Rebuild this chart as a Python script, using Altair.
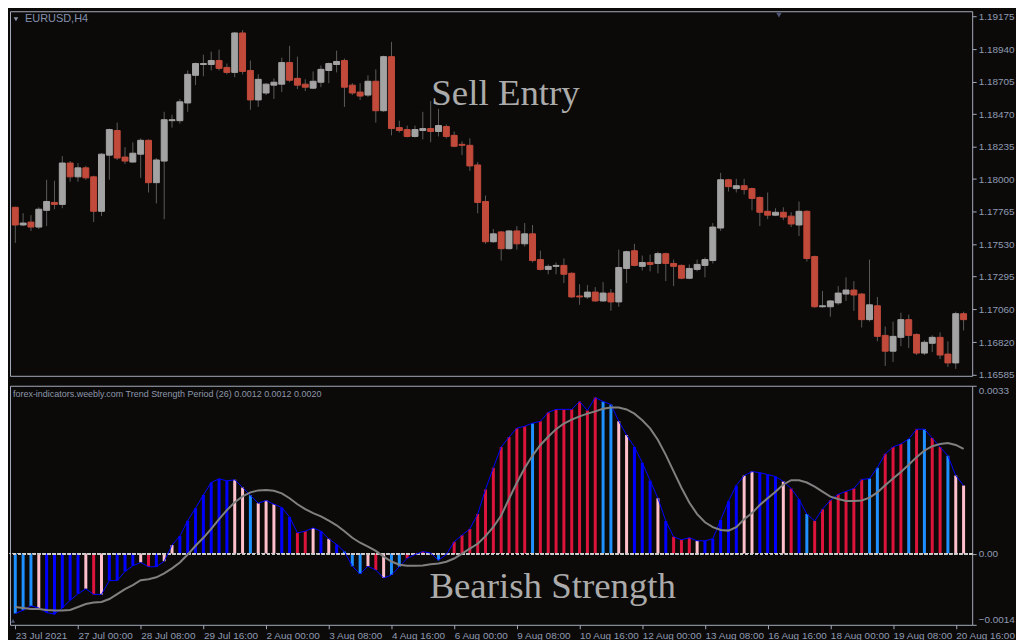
import altair as alt
import pandas as pd

# ---------------- price data (EURUSD H4) ----------------
opens = [1.17796, 1.17668, 1.17689, 1.17653, 1.17774, 1.17831, 1.17817, 1.18116, 1.18016, 1.18081,
         1.18016, 1.17767, 1.18173, 1.18351, 1.18159, 1.18123, 1.18180, 1.18280, 1.17974, 1.18130,
         1.18422, 1.18422, 1.18550, 1.18750, 1.18828, 1.18828, 1.18857, 1.18807, 1.18771, 1.19056,
         1.18785, 1.18572, 1.18622, 1.18679, 1.18686, 1.18842, 1.18728, 1.18686, 1.18657, 1.18700,
         1.18785, 1.18828, 1.18857, 1.18679, 1.18629, 1.18607, 1.18707, 1.18494, 1.18885, 1.18372,
         1.18358, 1.18308, 1.18351, 1.18365, 1.18344, 1.18380, 1.18316, 1.18251, 1.18244, 1.18102,
         1.17838, 1.17547, 1.17618, 1.17497, 1.17625, 1.17532, 1.17604, 1.17418, 1.17347, 1.17369,
         1.17376, 1.17319, 1.17155, 1.17148, 1.17183, 1.17119, 1.17176, 1.17112, 1.17354, 1.17482,
         1.17369, 1.17397, 1.17390, 1.17461, 1.17390, 1.17376, 1.17283, 1.17347, 1.17376, 1.17411,
         1.17646, 1.17995, 1.17931, 1.17952, 1.17931, 1.17867, 1.17767, 1.17739, 1.17760, 1.17732,
         1.17668, 1.17767, 1.17440, 1.17077, 1.17077, 1.17105, 1.17169, 1.17198, 1.17169, 1.16984,
         1.17084, 1.16870, 1.16756, 1.16856, 1.16984, 1.16877, 1.16742, 1.16813, 1.16856, 1.16735,
         1.16671, 1.17027]
highs = [1.17800, 1.17753, 1.17739, 1.17796, 1.17995, 1.17988, 1.18166, 1.18130, 1.18116, 1.18095,
         1.18024, 1.18187, 1.18365, 1.18408, 1.18230, 1.18266, 1.18294, 1.18287, 1.18152, 1.18486,
         1.18465, 1.18579, 1.18785, 1.18842, 1.18899, 1.18921, 1.18935, 1.18835, 1.19063, 1.19077,
         1.18857, 1.18757, 1.18693, 1.18728, 1.18878, 1.18963, 1.18885, 1.18721, 1.18778, 1.18821,
         1.18842, 1.18928, 1.18871, 1.18693, 1.18693, 1.18750, 1.18793, 1.18892, 1.18992, 1.18422,
         1.18387, 1.18387, 1.18486, 1.18565, 1.18508, 1.18394, 1.18344, 1.18273, 1.18294, 1.18123,
         1.17881, 1.17639, 1.17625, 1.17632, 1.17660, 1.17682, 1.17668, 1.17482, 1.17383, 1.17397,
         1.17426, 1.17326, 1.17240, 1.17233, 1.17219, 1.17255, 1.17205, 1.17490, 1.17482, 1.17532,
         1.17447, 1.17454, 1.17475, 1.17468, 1.17418, 1.17383, 1.17383, 1.17418, 1.17433, 1.17682,
         1.18045, 1.18002, 1.18002, 1.18002, 1.17938, 1.17874, 1.17903, 1.17789, 1.17796, 1.17760,
         1.17838, 1.17774, 1.17447, 1.17191, 1.17126, 1.17226, 1.17290, 1.17262, 1.17176, 1.17418,
         1.17148, 1.16934, 1.16970, 1.17034, 1.17020, 1.16884, 1.16835, 1.16870, 1.16892, 1.16827,
         1.17041, 1.17041]
lows = [1.17539, 1.17660, 1.17625, 1.17639, 1.17660, 1.17782, 1.17789, 1.17981, 1.17981, 1.17995,
        1.17689, 1.17732, 1.17995, 1.18138, 1.18109, 1.18120, 1.18009, 1.17903, 1.17824, 1.17710,
        1.18372, 1.18401, 1.18486, 1.18679, 1.18743, 1.18785, 1.18785, 1.18757, 1.18736, 1.18757,
        1.18501, 1.18522, 1.18607, 1.18579, 1.18629, 1.18700, 1.18650, 1.18636, 1.18650, 1.18664,
        1.18693, 1.18771, 1.18522, 1.18607, 1.18572, 1.18593, 1.18408, 1.18486, 1.18316, 1.18337,
        1.18301, 1.18301, 1.18287, 1.18266, 1.18308, 1.18294, 1.18230, 1.18173, 1.18059, 1.17753,
        1.17532, 1.17539, 1.17411, 1.17490, 1.17490, 1.17511, 1.17397, 1.17340, 1.17312, 1.17312,
        1.17248, 1.17141, 1.17091, 1.17134, 1.17112, 1.17112, 1.17048, 1.17077, 1.17248, 1.17369,
        1.17340, 1.17333, 1.17319, 1.17262, 1.17226, 1.17276, 1.17276, 1.17333, 1.17290, 1.17390,
        1.17625, 1.17910, 1.17903, 1.17888, 1.17774, 1.17660, 1.17710, 1.17732, 1.17703, 1.17653,
        1.17589, 1.17404, 1.17070, 1.17070, 1.17005, 1.17091, 1.17119, 1.17048, 1.16927, 1.16970,
        1.16827, 1.16649, 1.16678, 1.16792, 1.16778, 1.16728, 1.16728, 1.16749, 1.16699, 1.16642,
        1.16628, 1.16906]
closes = [1.17668, 1.17682, 1.17653, 1.17782, 1.17838, 1.17817, 1.18116, 1.18016, 1.18081, 1.18009,
          1.17767, 1.18180, 1.18358, 1.18152, 1.18130, 1.18187, 1.18280, 1.17974, 1.18138, 1.18429,
          1.18429, 1.18558, 1.18757, 1.18835, 1.18835, 1.18857, 1.18800, 1.18771, 1.19056, 1.18778,
          1.18572, 1.18721, 1.18686, 1.18700, 1.18842, 1.18714, 1.18679, 1.18664, 1.18707, 1.18793,
          1.18835, 1.18850, 1.18664, 1.18622, 1.18600, 1.18707, 1.18494, 1.18885, 1.18365, 1.18351,
          1.18308, 1.18358, 1.18365, 1.18344, 1.18387, 1.18308, 1.18237, 1.18244, 1.18095, 1.17831,
          1.17547, 1.17604, 1.17497, 1.17625, 1.17532, 1.17604, 1.17411, 1.17347, 1.17369, 1.17376,
          1.17312, 1.17148, 1.17148, 1.17183, 1.17119, 1.17176, 1.17112, 1.17361, 1.17475, 1.17376,
          1.17397, 1.17383, 1.17461, 1.17390, 1.17369, 1.17283, 1.17354, 1.17383, 1.17418, 1.17653,
          1.17995, 1.17945, 1.17952, 1.17924, 1.17860, 1.17760, 1.17739, 1.17760, 1.17725, 1.17675,
          1.17767, 1.17426, 1.17077, 1.17084, 1.17119, 1.17176, 1.17198, 1.17162, 1.16984, 1.17091,
          1.16863, 1.16756, 1.16863, 1.16984, 1.16870, 1.16742, 1.16820, 1.16856, 1.16728, 1.16671,
          1.17027, 1.16984]

# ---------------- Trend Strength indicator ----------------
hist = [-0.001179, -0.001113, -0.001029, -0.001068, -0.001159, -0.001190, -0.001068, -0.000919, -0.000790, -0.000693,
        -0.000802, -0.000802, -0.000530, -0.000530, -0.000350, -0.000239, -0.000175, -0.000258, -0.000258, -0.000150,
        0.000169, 0.000344, 0.000647, 0.000893, 0.001152, 0.001398, 0.001470, 0.001431, 0.001451, 0.001301,
        0.001146, 0.000990, 0.001043, 0.000971, 0.000907, 0.000719, 0.000408, 0.000441, 0.000505, 0.000441,
        0.000291, 0.000181, 0.000039, -0.000247, -0.000402, -0.000247, -0.000324, -0.000480, -0.000421, -0.000258,
        -0.000091, -0.000019, 0.000039, 0.000010, -0.000130, -0.000019, 0.000233, 0.000363, 0.000486, 0.000777,
        0.001262, 0.001690, 0.002097, 0.002292, 0.002467, 0.002505, 0.002564, 0.002602, 0.002777, 0.002836,
        0.002836, 0.002836, 0.002991, 0.002816, 0.003069, 0.002991, 0.002933, 0.002602, 0.002331, 0.002097,
        0.001787, 0.001437, 0.001088, 0.000641, 0.000330, 0.000272, 0.000311, 0.000252, 0.000252, 0.000291,
        0.000660, 0.001029, 0.001340, 0.001534, 0.001612, 0.001592, 0.001554, 0.001515, 0.001418, 0.001282,
        0.001068, 0.000777, 0.000641, 0.000874, 0.001049, 0.001165, 0.001223, 0.001282, 0.001457, 0.001476,
        0.001690, 0.001961, 0.002097, 0.002156, 0.002253, 0.002447, 0.002447, 0.002272, 0.002097, 0.001923,
        0.001534, 0.001340]
signal = [-0.001049, -0.001068, -0.001088, -0.001088, -0.001107, -0.001117, -0.001117, -0.001107, -0.001049, -0.000990,
          -0.000961, -0.000952, -0.000893, -0.000796, -0.000699, -0.000621, -0.000524, -0.000505, -0.000466, -0.000388,
          -0.000291, -0.000175, -0.000019, 0.000155, 0.000311, 0.000486, 0.000680, 0.000854, 0.001010, 0.001126,
          0.001204, 0.001243, 0.001249, 0.001237, 0.001185, 0.001088, 0.000971, 0.000874, 0.000796, 0.000732,
          0.000647, 0.000557, 0.000441, 0.000311, 0.000214, 0.000136, 0.000052, -0.000058, -0.000155, -0.000219,
          -0.000239, -0.000239, -0.000233, -0.000208, -0.000194, -0.000161, -0.000097, 0.000000, 0.000097, 0.000194,
          0.000344, 0.000524, 0.000748, 0.001078, 0.001392, 0.001684, 0.001928, 0.002136, 0.002297, 0.002447,
          0.002558, 0.002635, 0.002699, 0.002752, 0.002796, 0.002849, 0.002874, 0.002874, 0.002835, 0.002752,
          0.002622, 0.002461, 0.002233, 0.001942, 0.001618, 0.001295, 0.001004, 0.000777, 0.000616, 0.000519,
          0.000466, 0.000452, 0.000519, 0.000674, 0.000796, 0.000957, 0.001088, 0.001218, 0.001359, 0.001443,
          0.001443, 0.001398, 0.001315, 0.001218, 0.001121, 0.001074, 0.001035, 0.001035, 0.001043, 0.001101,
          0.001204, 0.001346, 0.001476, 0.001606, 0.001748, 0.001897, 0.002026, 0.002111, 0.002156, 0.002175,
          0.002136, 0.002059]
# B = blue, D = dodger blue, C = crimson, P = pink
hist_colors = list("DDDPBBBBBP" "CPBBBBPCBP" "PBBBBBBBPP" "DPPPBBCCPB" "PBDDDPCPDD"
                   "CCCDDDCCCC" "CCCCCCDCCC" "CCCCCDDPPB" "BBPBCCCPBB" "BBBPPBBBPC"
                   "BDCCCCCCCD" "DCCCDCDCCD" "PP")

# ---------------- axis labels / annotations ----------------
date_labels = ["23 Jul 2021", "27 Jul 00:00", "28 Jul 08:00", "29 Jul 16:00", "2 Aug 00:00",
               "3 Aug 08:00", "4 Aug 16:00", "6 Aug 00:00", "9 Aug 08:00", "10 Aug 16:00",
               "12 Aug 00:00", "13 Aug 08:00", "16 Aug 16:00", "18 Aug 00:00", "19 Aug 08:00",
               "20 Aug 16:00"]
date_positions = [0, 8, 16, 24, 32, 40, 48, 56, 64, 72, 80, 88, 96, 104, 112, 120]
price_ticks = [1.19175, 1.18940, 1.18705, 1.18470, 1.18235, 1.18000, 1.17765,
               1.17530, 1.17295, 1.17060, 1.16820, 1.16585]
ind_ticks = [-0.0014, 0.0, 0.0033]
price_domain = [1.16578, 1.19213]
ind_domain = [-0.0014, 0.0033]
x_domain = [-0.04, 121.46]

sell_note = pd.DataFrame({"i": [53.09], "p": [1.18538], "t": ["Sell Entry"]})
bear_note = pd.DataFrame({"i": [52.84], "v": [-0.000874], "t": ["Bearish Strength"]})

# ---------------- styles ----------------
BG = "#0c0a08"
FRAME = "#a3aabb"
LABEL = "#8f9bb3"
UP = "#a3a3a3"
DOWN = "#c24a3b"
WICK = "#5c5c5c"
NOTE = "#ababab"
W, H1, H2 = 966, 366, 240

n = len(opens)
price = pd.DataFrame({"i": list(range(n)), "open": opens, "high": highs,
                      "low": lows, "close": closes})
price["dir"] = ["up" if c >= o else "down" for o, c in zip(opens, closes)]
ind = pd.DataFrame({"i": list(range(n)), "hist": hist, "signal": signal, "col": hist_colors})

xs = alt.Scale(domain=x_domain, nice=False, zero=False)
ps = alt.Scale(domain=price_domain, nice=False, zero=False)

price_axis = alt.Axis(orient="right", values=price_ticks, format=".5f", grid=False,
                      domain=False, tickSize=4, tickColor=FRAME, labelColor=LABEL,
                      labelFont="Liberation Sans", labelFontSize=10, labelPadding=2,
                      labelOverlap=False, labelBound=False, labelFlush=False, title=None)

wicks = alt.Chart(price).mark_rule(color=WICK, strokeWidth=1, clip=True).encode(
    x=alt.X("i:Q", scale=xs, axis=None),
    y=alt.Y("low:Q", scale=ps, axis=price_axis),
    y2="high:Q",
)
bodies = alt.Chart(price).mark_bar(size=6, strokeWidth=1, clip=True).encode(
    x=alt.X("i:Q", scale=xs, axis=None),
    y=alt.Y("open:Q", scale=ps, axis=price_axis),
    y2="close:Q",
    color=alt.Color("dir:N", scale=alt.Scale(domain=["up", "down"], range=[UP, DOWN]), legend=None),
    stroke=alt.Stroke("dir:N", scale=alt.Scale(domain=["up", "down"], range=[UP, DOWN]), legend=None),
)
sell_text = alt.Chart(sell_note).mark_text(
    align="left", baseline="alphabetic", font="Liberation Serif", fontSize=37, color=NOTE
).encode(x=alt.X("i:Q", scale=xs, axis=None), y=alt.Y("p:Q", scale=ps, axis=price_axis), text="t:N")

header = alt.Chart(pd.DataFrame({"t": ["EURUSD,H4"]})).mark_text(
    align="left", baseline="middle", font="Liberation Sans", fontSize=11, color="#8290ad"
).encode(x=alt.value(15), y=alt.value(8), text="t:N")
header_tri = alt.Chart(pd.DataFrame({"t": ["a"]})).mark_point(
    shape="triangle-down", filled=True, size=22, color="#8a93a8", opacity=1
).encode(x=alt.value(6), y=alt.value(8))
shift_tri = alt.Chart(pd.DataFrame({"t": ["a"]})).mark_point(
    shape="triangle-down", filled=True, size=30, color="#4d5677", opacity=1
).encode(x=alt.value(772), y=alt.value(4))

top = alt.layer(wicks, bodies, sell_text, header, header_tri, shift_tri).properties(width=W, height=H1)

# ---------------- indicator panel ----------------
ind_axis = alt.Axis(orient="right", values=ind_ticks, grid=False, domain=False, tickSize=4,
                    tickColor=FRAME, labelColor=LABEL, labelFont="Liberation Sans",
                    labelFontSize=10, labelPadding=2, labelFlush=True, labelOverlap=False,
                    title=None,
                    labelExpr="datum.value == 0 ? '0.00' : format(datum.value, '.4f')")
label_list = "[" + ",".join("'" + s + "'" for s in date_labels) + "]"
x_axis = alt.Axis(values=date_positions, grid=False, domain=False, tickSize=4, tickColor=FRAME,
                  labelColor=LABEL, labelFont="Liberation Sans", labelFontSize=10,
                  labelAlign="left", labelFlush=False, labelBound=False, labelOverlap=False,
                  labelPadding=2, title=None,
                  labelExpr=label_list + "[round(datum.value / 8)]")

bars = alt.Chart(ind).mark_bar(size=3, clip=True).encode(
    x=alt.X("i:Q", scale=xs, axis=x_axis),
    y=alt.Y("hist:Q", scale=alt.Scale(domain=ind_domain, nice=False, zero=False), axis=ind_axis),
    y2=alt.datum(0),
    color=alt.Color("col:N", scale=alt.Scale(domain=["B", "D", "C", "P"],
                                             range=["#0000ff", "#1e90ff", "#dc143c", "#ffc0cb"]),
                    legend=None),
)
outline = alt.Chart(ind).mark_line(color="#0000ff", strokeWidth=1, clip=True).encode(
    x=alt.X("i:Q", scale=xs), y="hist:Q")
zero_line = alt.Chart(ind).mark_rule(color="#d0d0d0", strokeWidth=1, strokeDash=[3, 2]).encode(
    y=alt.datum(0))
sig = alt.Chart(ind).mark_line(color="#808080", strokeWidth=2, clip=True).encode(
    x=alt.X("i:Q", scale=xs), y="signal:Q")
bear_text = alt.Chart(bear_note).mark_text(
    align="left", baseline="alphabetic", font="Liberation Serif", fontSize=37, color=NOTE
).encode(x=alt.X("i:Q", scale=xs), y="v:Q", text="t:N")
ind_title = alt.Chart(pd.DataFrame({"t": ["forex-indicators.weebly.com Trend Strength Period (26) 0.0012 0.0012 0.0020"]})).mark_text(
    align="left", baseline="middle", font="Liberation Sans", fontSize=9, color="#8c96aa"
).encode(x=alt.value(3), y=alt.value(8), text="t:N")
corner_tri = alt.Chart(pd.DataFrame({"t": ["a"]})).mark_point(
    shape="triangle-up", filled=True, size=18, color="#4d5677", opacity=1
).encode(x=alt.value(3), y=alt.value(H2 - 4))

bottom = alt.layer(bars, zero_line, outline, sig, bear_text, ind_title, corner_tri).properties(width=W, height=H2)

chart = alt.vconcat(top, bottom, spacing=4).resolve_scale(
    x="independent", y="independent", color="independent", stroke="independent"
).properties(
    background=BG, padding={"left": 1, "top": 1, "right": 0, "bottom": 0}
).configure_view(stroke=FRAME, strokeWidth=1).configure_axis(labelOverlap=False)

chart.save("out.html", embed_options={"renderer": "svg", "actions": False})
